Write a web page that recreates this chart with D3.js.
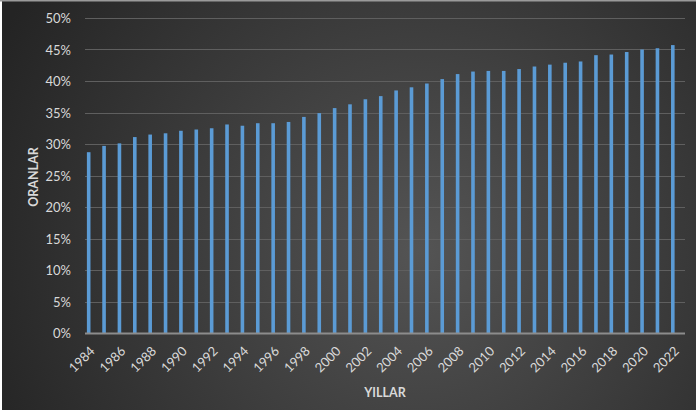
<!DOCTYPE html>
<html>
<head>
<meta charset="utf-8">
<script src="https://cdn.jsdelivr.net/npm/d3@7"></script>
<style>
html,body{margin:0;padding:0;background:#ffffff;}
svg{display:block;}
</style>
</head>
<body>
<svg id="chart" width="696" height="413"></svg>
<script>
const years = d3.range(1984, 2023).map(String);
const values = [28.7, 29.7, 30.1, 31.1, 31.5, 31.7, 32.1, 32.3, 32.5, 33.1,
                32.9, 33.3, 33.3, 33.5, 34.3, 34.9, 35.7, 36.3, 37.1, 37.6,
                38.5, 39.0, 39.6, 40.3, 41.1, 41.5, 41.6, 41.6, 41.9, 42.3,
                42.6, 42.9, 43.1, 44.1, 44.2, 44.6, 45.0, 45.2, 45.7];
const yTicks = [0, 5, 10, 15, 20, 25, 30, 35, 40, 45, 50];
const xTickLabels = years.filter((d, i) => i % 2 === 0);
const yTitle = "ORANLAR";
const xTitle = "YILLAR";

const svg = d3.select("#chart");
const defs = svg.append("defs");
const grad = defs.append("radialGradient")
  .attr("id", "bg").attr("gradientUnits", "userSpaceOnUse")
  .attr("cx", 420).attr("cy", 250).attr("r", 470);
grad.append("stop").attr("offset", "0%").attr("stop-color", "#545454");
grad.append("stop").attr("offset", "100%").attr("stop-color", "#242424");

svg.append("rect").attr("x", 2).attr("y", 1).attr("width", 694).attr("height", 409)
  .attr("fill", "url(#bg)");
svg.append("rect").attr("x", 0).attr("y", 0).attr("width", 696).attr("height", 1.5)
  .attr("fill", "#9a9a9a");

const plotLeft = 85, plotRight = 685;
const x = d3.scaleBand().domain(years).range([81, 680.5]);
const y = d3.scaleLinear().domain([0, 50]).range([333, 18]);

// gridlines
svg.append("g").selectAll("line").data(yTicks.filter(d => d > 0)).join("line")
  .attr("x1", plotLeft).attr("x2", plotRight)
  .attr("y1", d => Math.round(y(d)) + 0.5).attr("y2", d => Math.round(y(d)) + 0.5)
  .attr("stroke", "#5f5f5f").attr("stroke-width", 1);

// bars
const bw = 3.6;
svg.append("g").selectAll("rect").data(values).join("rect")
  .attr("x", (d, i) => x(years[i]) + x.bandwidth() / 2 - bw / 2)
  .attr("y", d => y(d))
  .attr("width", bw)
  .attr("height", d => y(0) - y(d))
  .attr("fill", "#5b9bd5");

// baseline
svg.append("line").attr("x1", plotLeft).attr("x2", plotRight)
  .attr("y1", y(0) + 0.5).attr("y2", y(0) + 0.5)
  .attr("stroke", "#8c8c8c").attr("stroke-width", 2);

// y axis labels
const yAxis = d3.axisLeft(y).tickValues(yTicks).tickFormat(d => d + "%").tickSize(0).tickPadding(0);
const gy = svg.append("g").attr("transform", "translate(71,0)").call(yAxis);
gy.select(".domain").remove();
gy.selectAll("text").attr("fill", "#d9d9d9").attr("font-family", "Lato, 'Open Sans', sans-serif")
  .attr("font-size", 13).attr("dy", "0.35em");

// x axis labels
const xAxis = d3.axisBottom(x).tickValues(xTickLabels).tickSize(0).tickPadding(0);
const gx = svg.append("g").attr("transform", `translate(0,${y(0)})`).call(xAxis);
gx.select(".domain").remove();
gx.selectAll("text")
  .attr("fill", "#d9d9d9").attr("font-family", "Lato, 'Open Sans', sans-serif")
  .attr("font-size", 13)
  .attr("text-anchor", "end")
  .attr("dy", null).attr("y", 0)
  .attr("transform", "translate(7,19) rotate(-45)");

// axis titles
svg.append("text").attr("x", 385).attr("y", 397)
  .attr("text-anchor", "middle").attr("fill", "#d9d9d9")
  .attr("font-family", "Lato, 'Open Sans', sans-serif").attr("font-weight", "bold")
  .attr("font-size", 12.5).text(xTitle);
svg.append("text")
  .attr("transform", "translate(38,177) rotate(-90)")
  .attr("text-anchor", "middle").attr("fill", "#d9d9d9")
  .attr("font-family", "Lato, 'Open Sans', sans-serif").attr("font-weight", "bold")
  .attr("font-size", 12.5).text(yTitle);
</script>
</body>
</html>
